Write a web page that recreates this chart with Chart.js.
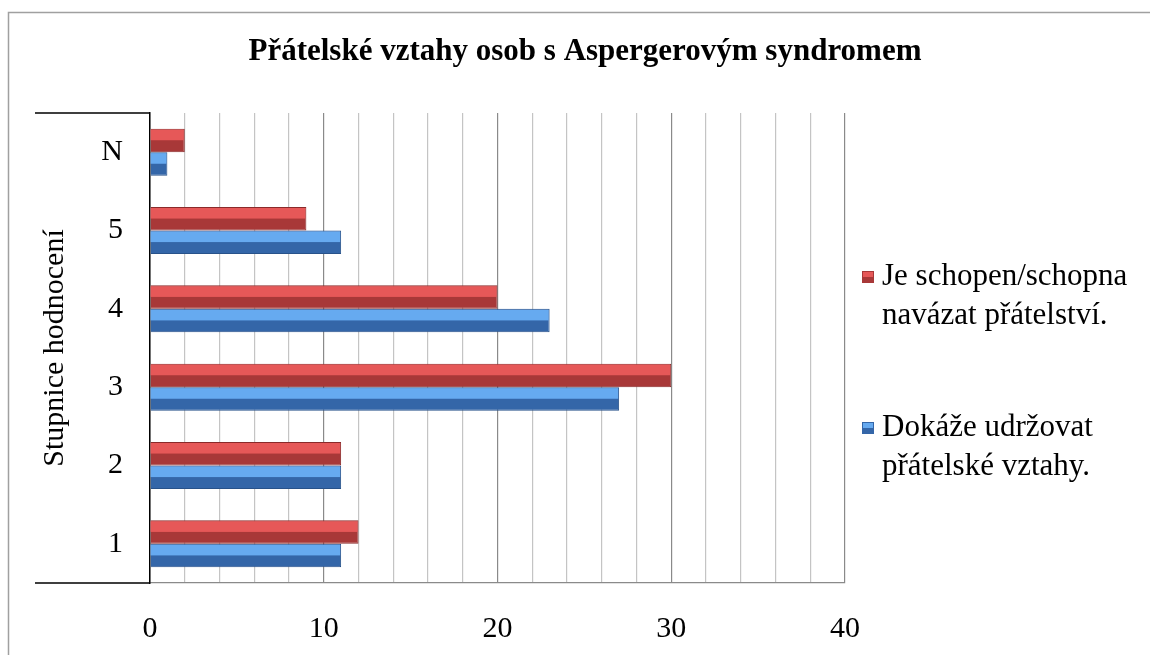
<!DOCTYPE html>
<html lang="cs">
<head>
    <meta charset="UTF-8">
    <title>Přátelské vztahy osob s Aspergerovým syndromem</title>
    <script src="https://cdn.jsdelivr.net/npm/chart.js"></script>
    <style>
        body { margin: 0; background: #fff; }
        #wrap { position: relative; width: 1150px; height: 655px; }
    </style>
</head>
<body>
<div id="wrap"><canvas id="friendChart" width="1150" height="655"></canvas></div>
<script>
    // data (top to bottom)
    const chartTitle = 'Přátelské vztahy osob s Aspergerovým syndromem';
    const categories = ['N', '5', '4', '3', '2', '1'];
    const canMakeFriends = [2, 9, 20, 30, 11, 12];
    const canKeepFriends = [1, 11, 23, 27, 11, 11];
    const seriesLabels = ['Je schopen/schopna\nnavázat přátelství.', 'Dokáže udržovat\npřátelské vztahy.'];
    const seriesDark = ['#a83838', '#3466a8'];
    const seriesLight = ['#e65858', '#66aaf0'];
    const xTicksShown = [0, 10, 20, 30, 40];

    const serif = "'Liberation Serif', 'Times New Roman', serif";

    // frame, title, bar shading, corner lines of the category axis, legend
    const extras = {
        id: 'extras',
        beforeDraw(chart) {
            const c = chart.ctx;
            c.save();
            c.strokeStyle = '#a0a0a0';
            c.lineWidth = 1.5;
            c.beginPath();
            c.moveTo(8.5, 700);
            c.lineTo(8.5, 12.5);
            c.lineTo(1200, 12.5);
            c.stroke();

            c.fillStyle = '#000';
            c.font = 'bold 31px ' + serif;
            c.textAlign = 'center';
            c.textBaseline = 'middle';
            c.fillText(chartTitle, 585, 52);
            c.restore();
        },
        afterDatasetsDraw(chart) {
            // lighter upper half of each bar, like the bevelled original
            const c = chart.ctx;
            c.save();
            chart.data.datasets.forEach((ds, i) => {
                chart.getDatasetMeta(i).data.forEach(bar => {
                    const p = bar.getProps(['x', 'y', 'base', 'height'], true);
                    const top = p.y - p.height / 2;
                    c.fillStyle = seriesLight[i];
                    c.fillRect(p.base, top + 1, p.x - p.base - 1, p.height * 0.45);
                });
            });
            c.restore();
        },
        afterDraw(chart) {
            const c = chart.ctx;
            const a = chart.chartArea;
            c.save();
            c.strokeStyle = '#000';
            c.lineWidth = 1.5;
            c.beginPath();
            c.moveTo(a.left - 115, a.top);
            c.lineTo(a.left, a.top);
            c.moveTo(a.left - 115, a.bottom);
            c.lineTo(a.left, a.bottom);
            c.stroke();

            c.font = '31px ' + serif;
            c.textBaseline = 'middle';
            chart.data.datasets.forEach((ds, i) => {
                const y0 = a.top + 164 + i * 151;
                const x0 = a.right + 17;
                c.fillStyle = seriesDark[i];
                c.fillRect(x0, y0 - 6, 12, 12);
                c.fillStyle = seriesLight[i];
                c.fillRect(x0 + 1, y0 - 5, 10, 5);
                c.fillStyle = '#000';
                ds.label.split('\n').forEach((line, j) => {
                    c.fillText(line, x0 + 20, y0 + j * 39);
                });
            });
            c.restore();
        }
    };

    new Chart(document.getElementById('friendChart').getContext('2d'), {
        type: 'bar',
        data: {
            labels: categories,
            datasets: [{
                label: seriesLabels[0],
                data: canMakeFriends,
                backgroundColor: seriesDark[0],
                borderColor: '#8a2a2a',
                borderWidth: 1
            }, {
                label: seriesLabels[1],
                data: canKeepFriends,
                backgroundColor: seriesDark[1],
                borderColor: '#28528a',
                borderWidth: 1
            }]
        },
        options: {
            indexAxis: 'y',
            responsive: false,
            animation: false,
            layout: { padding: { left: 0, right: 305, top: 113, bottom: 0 } },
            datasets: { bar: { categoryPercentage: 0.6, barPercentage: 1 } },
            plugins: {
                legend: { display: false },
                tooltip: { enabled: false },
                title: { display: false }
            },
            scales: {
                x: {
                    min: 0,
                    max: 40,
                    afterFit: s => { s.height = 72; },
                    ticks: {
                        stepSize: 2,
                        autoSkip: false,
                        maxRotation: 0,
                        padding: 28,
                        color: '#000',
                        font: { family: serif, size: 30 },
                        callback: v => xTicksShown.includes(v) ? String(v) : ''
                    },
                    grid: {
                        drawTicks: false,
                        color: ctx => (ctx.tick && ctx.tick.value % 10 === 0) ? '#8a8a8a' : '#c4c4c4',
                        lineWidth: 1.2
                    },
                    border: { color: '#8a8a8a', width: 1.2 }
                },
                y: {
                    afterFit: s => { s.width = 150; },
                    ticks: {
                        padding: 19,
                        color: '#000',
                        font: { family: serif, size: 30 }
                    },
                    grid: { display: false },
                    border: { color: '#000', width: 1.5 },
                    title: {
                        display: true,
                        text: 'Stupnice hodnocení',
                        color: '#000',
                        font: { family: serif, size: 30 },
                        padding: { top: 37, bottom: 0 }
                    }
                }
            }
        },
        plugins: [extras]
    });
</script>
</body>
</html>
